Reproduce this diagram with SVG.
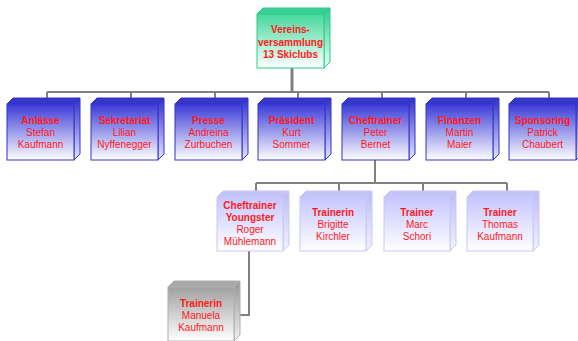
<svg xmlns="http://www.w3.org/2000/svg" width="578" height="341" viewBox="0 0 578 341">
<defs>
<linearGradient id="gG" x1="0" y1="0" x2="0" y2="1"><stop offset="0" stop-color="#45d89c"/><stop offset="1" stop-color="#ffffff"/></linearGradient>
<linearGradient id="gGs" x1="0" y1="0" x2="0" y2="1"><stop offset="0" stop-color="#2ecc8c"/><stop offset="1" stop-color="#e8fff4"/></linearGradient>
<linearGradient id="gB" x1="0" y1="0" x2="0" y2="1"><stop offset="0" stop-color="#3a3ad8"/><stop offset="1" stop-color="#ffffff"/></linearGradient>
<linearGradient id="gBs" x1="0" y1="0" x2="0" y2="1"><stop offset="0" stop-color="#2f2fc8"/><stop offset="1" stop-color="#e6e6ff"/></linearGradient>
<linearGradient id="gL" x1="0" y1="0" x2="0" y2="1"><stop offset="0" stop-color="#c6c6ff"/><stop offset="1" stop-color="#ffffff"/></linearGradient>
<linearGradient id="gLs" x1="0" y1="0" x2="0" y2="1"><stop offset="0" stop-color="#bcbcf6"/><stop offset="1" stop-color="#f2f2ff"/></linearGradient>
<linearGradient id="gA" x1="0" y1="0" x2="0" y2="1"><stop offset="0" stop-color="#a0a0a0"/><stop offset="1" stop-color="#ffffff"/></linearGradient>
<linearGradient id="gAs" x1="0" y1="0" x2="0" y2="1"><stop offset="0" stop-color="#969696"/><stop offset="1" stop-color="#f0f0f0"/></linearGradient>
</defs>
<style>
text{font-family:"Liberation Sans",Arial,sans-serif;font-size:10px;fill:#ff1a1a;text-anchor:middle;stroke:none}
.t{font-weight:bold}
.f,.s,.p{stroke-width:1}
.g .f{fill:url(#gG)} .g .s{fill:url(#gGs)} .g .p{fill:#38d096} .g .f,.g .s,.g .p{stroke:#2ccc8a}
.b .f{fill:url(#gB)} .b .s{fill:url(#gBs)} .b .p{fill:#3636c8} .b .f,.b .s,.b .p{stroke:#3333cc}
.l .f{fill:url(#gL)} .l .s{fill:url(#gLs)} .l .p{fill:#c4c4fa} .l .f,.l .s,.l .p{stroke:#c8c8f4}
.a .f{fill:url(#gA)} .a .s{fill:url(#gAs)} .a .p{fill:#a8a8a8} .a .f,.a .s,.a .p{stroke:#b0b0b0}
.c{stroke:#808080;stroke-width:2;fill:none}
</style>
<g id="connectors">
<path class="c" d="M292 68V92" style="stroke-width:3"/>
<path class="c" d="M47 92H549M47 92V98M131 92V98M215 92V98M298 92V98M382 92V98M466 92V98M549 92V98"/>
<path class="c" d="M375 160V183M256 183H507M256 183V191M339 183V191M423 183V191M507 183V191"/>
<path class="c" d="M249 251V315H240"/>
</g>
<g id="n0" class="g">
<polygon class="p" points="257,14 263,8 330,8 324,14"/>
<polygon class="s" points="324,14 330,8 330,62 324,68"/>
<rect class="f" x="257" y="14" width="67" height="54"/>
<text class="t" x="290.5" y="33">Vereins-</text>
<text class="t" x="290.5" y="46">versammlung</text>
<text class="t" x="290.5" y="58">13 Skiclubs</text>
</g>
<g id="n1" class="b">
<polygon class="p" points="7,104 13,98 80,98 74,104"/><polygon class="s" points="74,104 80,98 80,154 74,160"/><rect class="f" x="7" y="104" width="67" height="56"/>
<text class="t" x="40.5" y="124">Anlässe</text><text x="40.5" y="136">Stefan</text><text x="40.5" y="148">Kaufmann</text>
</g>
<g id="n2" class="b">
<polygon class="p" points="91,104 97,98 164,98 158,104"/><polygon class="s" points="158,104 164,98 164,154 158,160"/><rect class="f" x="91" y="104" width="67" height="56"/>
<text class="t" x="124.5" y="124">Sekretariat</text><text x="124.5" y="136">Lilian</text><text x="124.5" y="148">Nyffenegger</text>
</g>
<g id="n3" class="b">
<polygon class="p" points="175,104 181,98 248,98 242,104"/><polygon class="s" points="242,104 248,98 248,154 242,160"/><rect class="f" x="175" y="104" width="67" height="56"/>
<text class="t" x="208.5" y="124">Presse</text><text x="208.5" y="136">Andreina</text><text x="208.5" y="148">Zurbuchen</text>
</g>
<g id="n4" class="b">
<polygon class="p" points="258,104 264,98 331,98 325,104"/><polygon class="s" points="325,104 331,98 331,154 325,160"/><rect class="f" x="258" y="104" width="67" height="56"/>
<text class="t" x="291.5" y="124">Präsident</text><text x="291.5" y="136">Kurt</text><text x="291.5" y="148">Sommer</text>
</g>
<g id="n5" class="b">
<polygon class="p" points="342,104 348,98 415,98 409,104"/><polygon class="s" points="409,104 415,98 415,154 409,160"/><rect class="f" x="342" y="104" width="67" height="56"/>
<text class="t" x="375.5" y="124">Cheftrainer</text><text x="375.5" y="136">Peter</text><text x="375.5" y="148">Bernet</text>
</g>
<g id="n6" class="b">
<polygon class="p" points="426,104 432,98 499,98 493,104"/><polygon class="s" points="493,104 499,98 499,154 493,160"/><rect class="f" x="426" y="104" width="67" height="56"/>
<text class="t" x="459.5" y="124">Finanzen</text><text x="459.5" y="136">Martin</text><text x="459.5" y="148">Maier</text>
</g>
<g id="n7" class="b">
<polygon class="p" points="509,104 515,98 582,98 576,104"/><polygon class="s" points="576,104 582,98 582,154 576,160"/><rect class="f" x="509" y="104" width="67" height="56"/>
<text class="t" x="542.5" y="124">Sponsoring</text><text x="542.5" y="136">Patrick</text><text x="542.5" y="148">Chaubert</text>
</g>
<g id="n8" class="l">
<polygon class="p" points="217,197 223,191 289,191 283,197"/><polygon class="s" points="283,197 289,191 289,245 283,251"/><rect class="f" x="217" y="197" width="66" height="54"/>
<text class="t" x="250" y="209">Cheftrainer</text><text class="t" x="250" y="221">Youngster</text><text x="250" y="233">Roger</text><text x="250" y="245">Mühlemann</text>
</g>
<g id="n9" class="l">
<polygon class="p" points="300,197 306,191 372,191 366,197"/><polygon class="s" points="366,197 372,191 372,245 366,251"/><rect class="f" x="300" y="197" width="66" height="54"/>
<text class="t" x="333" y="216">Trainerin</text><text x="333" y="228">Brigitte</text><text x="333" y="240">Kirchler</text>
</g>
<g id="n10" class="l">
<polygon class="p" points="384,197 390,191 456,191 450,197"/><polygon class="s" points="450,197 456,191 456,245 450,251"/><rect class="f" x="384" y="197" width="66" height="54"/>
<text class="t" x="417" y="216">Trainer</text><text x="417" y="228">Marc</text><text x="417" y="240">Schori</text>
</g>
<g id="n11" class="l">
<polygon class="p" points="467,197 473,191 539,191 533,197"/><polygon class="s" points="533,197 539,191 539,245 533,251"/><rect class="f" x="467" y="197" width="66" height="54"/>
<text class="t" x="500" y="216">Trainer</text><text x="500" y="228">Thomas</text><text x="500" y="240">Kaufmann</text>
</g>
<g id="n12" class="a">
<polygon class="p" points="168,287 174,281 240,281 234,287"/><polygon class="s" points="234,287 240,281 240,335 234,341"/><rect class="f" x="168" y="287" width="66" height="54"/>
<text class="t" x="201" y="307">Trainerin</text><text x="201" y="319">Manuela</text><text x="201" y="331">Kaufmann</text>
</g>
</svg>
